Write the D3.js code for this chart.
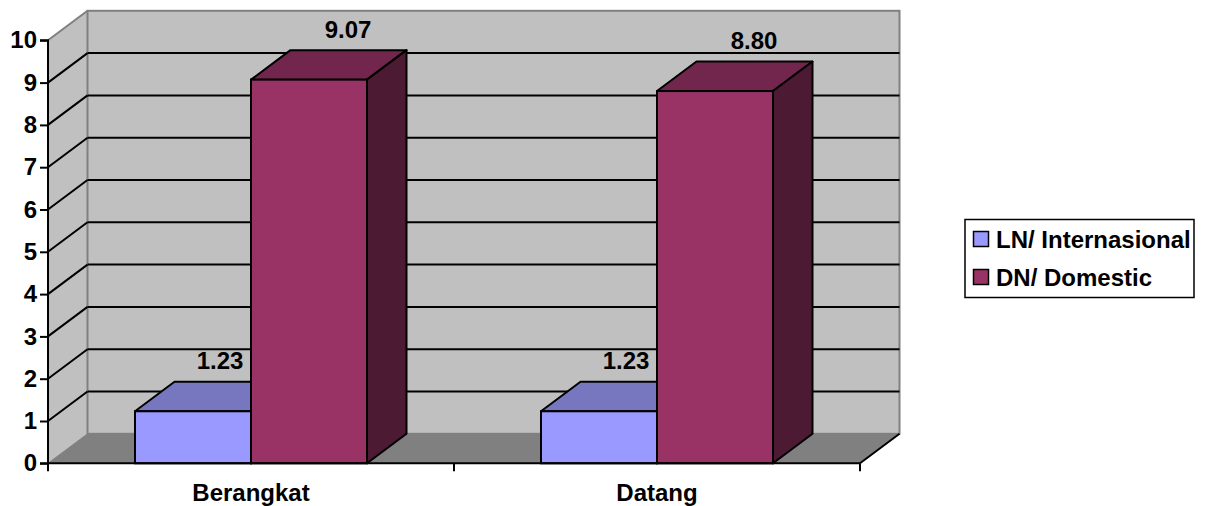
<!DOCTYPE html>
<html>
<head>
<meta charset="utf-8">
<script src="https://cdn.jsdelivr.net/npm/d3@7"></script>
<style>
  html, body { margin: 0; padding: 0; background: #ffffff; }
  svg { display: block; }
  text { font-family: "Liberation Sans", Arial, sans-serif; font-weight: bold; fill: #000; }
</style>
</head>
<body>
<svg id="chart" width="1209" height="506"></svg>
<script>
// Passenger movements by direction, two series per category
const categories = ["Berangkat", "Datang"];
const seriesNames = ["LN/ Internasional", "DN/ Domestic"];
const lnValues = [1.23, 1.23];
const dnValues = [9.07, 8.80];
const yTickValues = [0, 1, 2, 3, 4, 5, 6, 7, 8, 9, 10];

const seriesValues = [lnValues, dnValues];
const seriesFront = ["#9999FF", "#993366"];
const seriesTop = ["#7777C0", "#73264D"];
const seriesSide = ["#5C5C99", "#4D1A33"];
const labelShift = [27, 39];

const svg = d3.select("#chart");
const fontSize = 24;

// Front plane of the 3-D box and the depth offset of the back plane
const plotLeft = 48, plotRight = 860, plotBottom = 463.3, plotTop = 40.3;
const dx = 39.5, dy = -29.5;

const y = d3.scaleLinear().domain([0, 10]).range([plotBottom, plotTop]);
const x = d3.scaleBand().domain(categories).range([plotLeft, plotRight]).padding(0);
const xs = d3.scaleBand().domain(d3.range(seriesNames.length))
  .range([0, x.bandwidth()]).paddingInner(0).paddingOuter(0.75);

const pts = a => a.map(p => p.join(",")).join(" ");

// Left side wall
svg.append("polygon")
  .attr("points", pts([[plotLeft, y(10)], [plotLeft + dx, y(10) + dy], [plotLeft + dx, y(0) + dy], [plotLeft, y(0)]]))
  .attr("fill", "#C0C0C0");

// Back wall
svg.append("rect")
  .attr("x", plotLeft + dx).attr("y", y(10) + dy)
  .attr("width", plotRight - plotLeft).attr("height", y(0) - y(10))
  .attr("fill", "#C0C0C0").attr("stroke", "#808080").attr("stroke-width", 2);

// Floor
svg.append("polygon")
  .attr("points", pts([[plotLeft, y(0)], [plotRight, y(0)], [plotRight + dx, y(0) + dy], [plotLeft + dx, y(0) + dy]]))
  .attr("fill", "#808080");

// Gridlines on back wall and side wall
const inner = yTickValues.filter(v => v > 0 && v < 10);
svg.append("g").selectAll("line").data(inner).join("line")
  .attr("x1", plotLeft + dx).attr("x2", plotRight + dx)
  .attr("y1", d => y(d) + dy).attr("y2", d => y(d) + dy)
  .attr("stroke", "#000").attr("stroke-width", 2);
svg.append("g").selectAll("line").data(yTickValues).join("line")
  .attr("x1", plotLeft).attr("x2", plotLeft + dx)
  .attr("y1", d => y(d)).attr("y2", d => y(d) + dy)
  .attr("stroke", d => (d === 0 || d === 10) ? "#808080" : "#000")
  .attr("stroke-width", d => (d === 0) ? 1 : 2);

// Bars drawn as boxes: top, right side, front
const barsG = svg.append("g");
categories.forEach((cat, ci) => {
  seriesValues.forEach((vals, si) => {
    const v = vals[ci];
    const x0 = x(cat) + xs(si), x1 = x0 + xs.bandwidth();
    const yt = y(v), yb = y(0);
    const g = barsG.append("g");
    g.append("polygon")
      .attr("points", pts([[x0, yt], [x1, yt], [x1 + dx, yt + dy], [x0 + dx, yt + dy]]))
      .attr("fill", seriesTop[si]).attr("stroke", "#000").attr("stroke-width", 2).attr("stroke-linejoin", "round");
    g.append("polygon")
      .attr("points", pts([[x1, yt], [x1 + dx, yt + dy], [x1 + dx, yb + dy], [x1, yb]]))
      .attr("fill", seriesSide[si]).attr("stroke", "#000").attr("stroke-width", 2).attr("stroke-linejoin", "round");
    g.append("rect")
      .attr("x", x0).attr("y", yt).attr("width", x1 - x0).attr("height", yb - yt)
      .attr("fill", seriesFront[si]).attr("stroke", "#000").attr("stroke-width", 2);
  });
});

// Right floor edge
svg.append("line")
  .attr("x1", plotRight).attr("y1", y(0)).attr("x2", plotRight + dx).attr("y2", y(0) + dy)
  .attr("stroke", "#000").attr("stroke-width", 2);

// Value axis
const yAxis = d3.axisLeft(y).tickValues(yTickValues).tickFormat(d3.format("d"))
  .tickSize(8).tickPadding(3);
const yg = svg.append("g").attr("transform", `translate(${plotLeft},0)`).call(yAxis);
yg.select(".domain").attr("stroke", "#000").attr("stroke-width", 2).attr("d", `M-8,${plotTop}H0V${plotBottom}H-8`);
yg.selectAll(".tick line").attr("stroke", "#000").attr("stroke-width", 2);
yg.selectAll(".tick text").style("font-size", fontSize + "px").style("font-family", "'Liberation Sans', Arial, sans-serif").attr("font-weight", "bold").attr("fill", "#000");

// Category axis: labels centred, ticks at band boundaries
const xAxis = d3.axisBottom(x).tickSize(0).tickPadding(21);
const xg = svg.append("g").attr("transform", `translate(0,${plotBottom})`).call(xAxis);
xg.select(".domain").remove();
xg.selectAll(".tick text").style("font-size", fontSize + "px").style("font-family", "'Liberation Sans', Arial, sans-serif").attr("font-weight", "bold").attr("fill", "#000");
svg.append("line").attr("x1", plotLeft).attr("x2", plotRight).attr("y1", plotBottom).attr("y2", plotBottom)
  .attr("stroke", "#000").attr("stroke-width", 2);
const bounds = categories.map(c => x(c)).concat([plotRight]);
svg.append("g").selectAll("line").data(bounds).join("line")
  .attr("x1", d => d).attr("x2", d => d).attr("y1", plotBottom).attr("y2", plotBottom + 8)
  .attr("stroke", "#000").attr("stroke-width", 2);

// Value labels above each bar
categories.forEach((cat, ci) => {
  seriesValues.forEach((vals, si) => {
    const v = vals[ci];
    svg.append("text")
      .attr("x", x(cat) + xs(si) + xs.bandwidth() / 2 + labelShift[si])
      .attr("y", y(v) + dy - 12.5)
      .attr("text-anchor", "middle")
      .style("font-size", fontSize + "px")
      .text(d3.format(".2f")(v));
  });
});

// Legend
const lg = svg.append("g").attr("transform", "translate(965,219.5)");
lg.append("rect").attr("width", 229).attr("height", 78)
  .attr("fill", "#fff").attr("stroke", "#000").attr("stroke-width", 1.5);
seriesNames.forEach((name, i) => {
  const cy = 20 + i * 38;
  lg.append("rect").attr("x", 8.5).attr("y", cy - 8).attr("width", 15).attr("height", 15)
    .attr("fill", seriesFront[i]).attr("stroke", "#000").attr("stroke-width", 1.5);
  lg.append("text").attr("x", 31).attr("y", cy + 8)
    .style("font-size", fontSize + "px").text(name);
});
</script>
</body>
</html>
